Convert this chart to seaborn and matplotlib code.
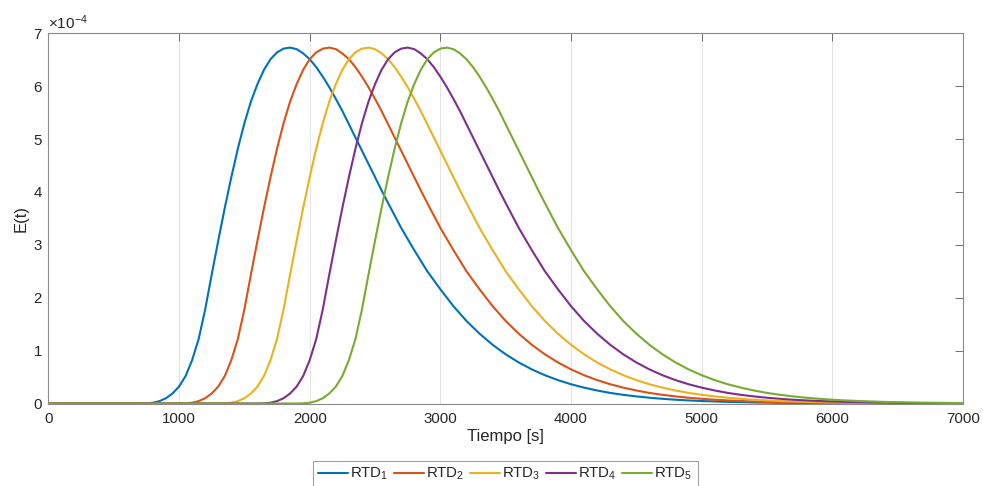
import numpy as np
import pandas as pd
import matplotlib
matplotlib.use("Agg")
import matplotlib.pyplot as plt
import seaborn as sns
from matplotlib.ticker import ScalarFormatter

# ---------------- data (E values in units of 1e-4) -------------
labels = ["RTD$_1$", "RTD$_2$", "RTD$_3$", "RTD$_4$", "RTD$_5$"]
colors = ["#0072BD", "#D95319", "#EDB120", "#7E2F8E", "#77AC30"]

t_rtd1 = [0, 700, 750, 800, 850, 900, 950, 1000, 1050, 1100, 1150, 1200, 1250, 1300, 1350,
          1400, 1450, 1500, 1550, 1600, 1650, 1700, 1750, 1800, 1850, 1900, 1950, 2000, 2050,
          2100, 2150, 2200, 2250, 2300, 2350, 2400, 2450, 2500, 2550, 2600, 2700, 2800, 2900,
          3000, 3100, 3200, 3300, 3400, 3500, 3600, 3700, 3800, 3900, 4000, 4100, 4200, 4300,
          4400, 4500, 4600, 4700, 4800, 4900, 5000, 5200, 5400, 5600, 5800, 6000, 6500, 7000]
e_rtd1 = [0, 0, 0.003, 0.015, 0.045, 0.10, 0.19, 0.32, 0.52, 0.82, 1.22, 1.78, 2.44, 3.08, 3.70,
          4.28, 4.82, 5.30, 5.71, 6.04, 6.31, 6.51, 6.64, 6.71, 6.73, 6.70, 6.62, 6.51, 6.36,
          6.18, 5.98, 5.76, 5.53, 5.28, 5.03, 4.78, 4.53, 4.28, 4.03, 3.79, 3.32, 2.90, 2.50,
          2.16, 1.84, 1.56, 1.32, 1.11, 0.93, 0.776, 0.645, 0.535, 0.442, 0.364, 0.30, 0.246, 0.20,
          0.164, 0.134, 0.109, 0.089, 0.071, 0.058, 0.047, 0.030, 0.020, 0.013, 0.008, 0.005, 0.002, 0.001]

t_rtd2 = [0, 1000, 1050, 1100, 1150, 1200, 1250, 1300, 1350, 1400, 1450, 1500, 1550, 1600, 1650,
          1700, 1750, 1800, 1850, 1900, 1950, 2000, 2050, 2100, 2150, 2200, 2250, 2300, 2350,
          2400, 2450, 2500, 2550, 2600, 2650, 2700, 2750, 2800, 2850, 2900, 3000, 3100, 3200,
          3300, 3400, 3500, 3600, 3700, 3800, 3900, 4000, 4100, 4200, 4300, 4400, 4500, 4600,
          4700, 4800, 4900, 5000, 5100, 5200, 5300, 5500, 5700, 5900, 6100, 6300, 6800, 7000]
e_rtd2 = [0, 0, 0.003, 0.015, 0.045, 0.10, 0.19, 0.32, 0.52, 0.82, 1.22, 1.78, 2.44, 3.08, 3.70,
          4.28, 4.82, 5.30, 5.71, 6.04, 6.31, 6.51, 6.64, 6.71, 6.73, 6.70, 6.62, 6.51, 6.36,
          6.18, 5.98, 5.76, 5.53, 5.28, 5.03, 4.78, 4.53, 4.28, 4.03, 3.79, 3.32, 2.90, 2.50,
          2.16, 1.84, 1.56, 1.32, 1.11, 0.93, 0.776, 0.645, 0.535, 0.442, 0.364, 0.30, 0.246, 0.20,
          0.164, 0.134, 0.109, 0.089, 0.071, 0.058, 0.047, 0.030, 0.020, 0.013, 0.008, 0.005, 0.002, 0.0015]

t_rtd3 = [0, 1300, 1350, 1400, 1450, 1500, 1550, 1600, 1650, 1700, 1750, 1800, 1850, 1900, 1950,
          2000, 2050, 2100, 2150, 2200, 2250, 2300, 2350, 2400, 2450, 2500, 2550, 2600, 2650,
          2700, 2750, 2800, 2850, 2900, 2950, 3000, 3050, 3100, 3150, 3200, 3300, 3400, 3500,
          3600, 3700, 3800, 3900, 4000, 4100, 4200, 4300, 4400, 4500, 4600, 4700, 4800, 4900,
          5000, 5100, 5200, 5300, 5400, 5500, 5600, 5800, 6000, 6200, 6400, 6600, 7000]
e_rtd3 = [0, 0, 0.003, 0.015, 0.045, 0.10, 0.19, 0.32, 0.52, 0.82, 1.22, 1.78, 2.44, 3.08, 3.70,
          4.28, 4.82, 5.30, 5.71, 6.04, 6.31, 6.51, 6.64, 6.71, 6.73, 6.70, 6.62, 6.51, 6.36,
          6.18, 5.98, 5.76, 5.53, 5.28, 5.03, 4.78, 4.53, 4.28, 4.03, 3.79, 3.32, 2.90, 2.50,
          2.16, 1.84, 1.56, 1.32, 1.11, 0.93, 0.776, 0.645, 0.535, 0.442, 0.364, 0.30, 0.246, 0.20,
          0.164, 0.134, 0.109, 0.089, 0.071, 0.058, 0.047, 0.030, 0.020, 0.013, 0.008, 0.005, 0.0025]

t_rtd4 = [0, 1600, 1650, 1700, 1750, 1800, 1850, 1900, 1950, 2000, 2050, 2100, 2150, 2200, 2250,
          2300, 2350, 2400, 2450, 2500, 2550, 2600, 2650, 2700, 2750, 2800, 2850, 2900, 2950,
          3000, 3050, 3100, 3150, 3200, 3250, 3300, 3350, 3400, 3450, 3500, 3600, 3700, 3800,
          3900, 4000, 4100, 4200, 4300, 4400, 4500, 4600, 4700, 4800, 4900, 5000, 5100, 5200,
          5300, 5400, 5500, 5600, 5700, 5800, 5900, 6100, 6300, 6500, 6700, 6900, 7000]
e_rtd4 = [0, 0, 0.003, 0.015, 0.045, 0.10, 0.19, 0.32, 0.52, 0.82, 1.22, 1.78, 2.44, 3.08, 3.70,
          4.28, 4.82, 5.30, 5.71, 6.04, 6.31, 6.51, 6.64, 6.71, 6.73, 6.70, 6.62, 6.51, 6.36,
          6.18, 5.98, 5.76, 5.53, 5.28, 5.03, 4.78, 4.53, 4.28, 4.03, 3.79, 3.32, 2.90, 2.50,
          2.16, 1.84, 1.56, 1.32, 1.11, 0.93, 0.776, 0.645, 0.535, 0.442, 0.364, 0.30, 0.246, 0.20,
          0.164, 0.134, 0.109, 0.089, 0.071, 0.058, 0.047, 0.030, 0.020, 0.013, 0.008, 0.005, 0.0045]

t_rtd5 = [0, 1900, 1950, 2000, 2050, 2100, 2150, 2200, 2250, 2300, 2350, 2400, 2450, 2500, 2550,
          2600, 2650, 2700, 2750, 2800, 2850, 2900, 2950, 3000, 3050, 3100, 3150, 3200, 3250,
          3300, 3350, 3400, 3450, 3500, 3550, 3600, 3650, 3700, 3750, 3800, 3900, 4000, 4100,
          4200, 4300, 4400, 4500, 4600, 4700, 4800, 4900, 5000, 5100, 5200, 5300, 5400, 5500,
          5600, 5700, 5800, 5900, 6000, 6100, 6200, 6400, 6600, 6800, 7000]
e_rtd5 = [0, 0, 0.003, 0.015, 0.045, 0.10, 0.19, 0.32, 0.52, 0.82, 1.22, 1.78, 2.44, 3.08, 3.70,
          4.28, 4.82, 5.30, 5.71, 6.04, 6.31, 6.51, 6.64, 6.71, 6.73, 6.70, 6.62, 6.51, 6.36,
          6.18, 5.98, 5.76, 5.53, 5.28, 5.03, 4.78, 4.53, 4.28, 4.03, 3.79, 3.32, 2.90, 2.50,
          2.16, 1.84, 1.56, 1.32, 1.11, 0.93, 0.776, 0.645, 0.535, 0.442, 0.364, 0.30, 0.246, 0.20,
          0.164, 0.134, 0.109, 0.089, 0.071, 0.058, 0.047, 0.030, 0.020, 0.013, 0.008]

x_ticks = [0, 1000, 2000, 3000, 4000, 5000, 6000, 7000]
y_ticks = [0, 1e-4, 2e-4, 3e-4, 4e-4, 5e-4, 6e-4, 7e-4]
x_label = "Tiempo [s]"
y_label = "E(t)"

series_t = [t_rtd1, t_rtd2, t_rtd3, t_rtd4, t_rtd5]
series_e = [e_rtd1, e_rtd2, e_rtd3, e_rtd4, e_rtd5]

frames = []
for lab, tt, ee in zip(labels, series_t, series_e):
    frames.append(pd.DataFrame({"t": tt, "E": np.array(ee) * 1e-4, "serie": lab}))
df = pd.concat(frames, ignore_index=True)

# ---------------- style ----------------
sns.set_theme(style="white")
plt.rcParams["font.family"] = ["Liberation Sans", "DejaVu Sans"]
plt.rcParams["mathtext.fontset"] = "custom"
plt.rcParams["mathtext.rm"] = "Liberation Sans"
plt.rcParams["mathtext.it"] = "Liberation Sans:italic"
plt.rcParams["mathtext.default"] = "regular"

txt = "#262626"
axcol = "#8a8a8a"

fig = plt.figure(figsize=(9.83, 4.86), dpi=100)
ax = fig.add_axes([48.4 / 983, 1 - 403.5 / 486, (963 - 48.4) / 983, (403.5 - 33.3) / 486])

sns.lineplot(data=df, x="t", y="E", hue="serie", hue_order=labels, palette=colors,
             linewidth=1.5, sort=False, estimator=None, ax=ax)

ax.set_xlim(0, 7000)
ax.set_ylim(0, 7e-4)
ax.set_xticks(x_ticks)
ax.set_yticks(y_ticks)
fmt = ScalarFormatter(useMathText=True)
fmt.set_powerlimits((-3, 3))
ax.yaxis.set_major_formatter(fmt)
ax.yaxis.get_offset_text().set_fontsize(11)
ax.yaxis.get_offset_text().set_color(txt)

ax.grid(axis="x", color="#e3e3e3", linewidth=0.7)
ax.grid(axis="y", visible=False)
ax.set_axisbelow(True)

for s in ax.spines.values():
    s.set_color(axcol)
    s.set_linewidth(0.8)
    s.set_visible(True)

ax.tick_params(axis="both", which="major", direction="in", length=6, width=0.7,
               color="#6e6e6e", labelcolor=txt, labelsize=10.8, top=True, right=True)
ax.tick_params(axis="x", pad=6)
ax.tick_params(axis="y", pad=4)

ax.set_xlabel(x_label, fontsize=12, color=txt, labelpad=2)
ax.set_ylabel(y_label, fontsize=12, color=txt, labelpad=3)

handles, labs = ax.get_legend_handles_labels()
if ax.get_legend() is not None:
    ax.get_legend().remove()
leg = fig.legend(handles, labs, loc="upper center", bbox_to_anchor=(0.514, 0.052),
                 ncol=5, fontsize=10.8, frameon=True, fancybox=False, borderpad=0.35,
                 handlelength=2.0, handletextpad=0.15, columnspacing=0.35,
                 borderaxespad=0.0)
leg.get_frame().set_edgecolor(axcol)
leg.get_frame().set_linewidth(0.8)
for t in leg.get_texts():
    t.set_color(txt)
for h in leg.get_lines():
    h.set_linewidth(1.5)

fig.savefig("out.png", dpi=100)
